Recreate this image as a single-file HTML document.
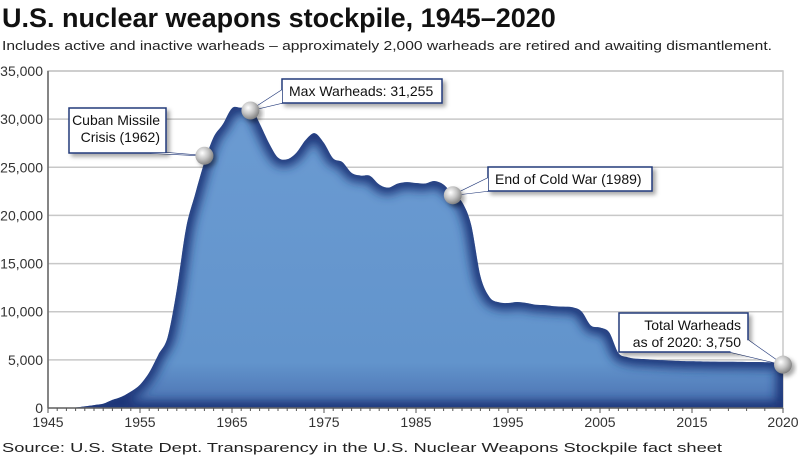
<!DOCTYPE html>
<html><head><meta charset="utf-8"><style>
body{margin:0;background:#fff;width:800px;height:458px;overflow:hidden;font-family:"Liberation Sans",sans-serif}
</style></head><body>
<svg width="800" height="458" viewBox="0 0 800 458" xmlns="http://www.w3.org/2000/svg">
<defs>
<linearGradient id="gf" x1="0" y1="0" x2="0" y2="1"><stop offset="0" stop-color="#6b9bd2"/><stop offset="0.85" stop-color="#6294cc"/><stop offset="1" stop-color="#4a70b0"/></linearGradient>
<filter id="bl" x="-10%" y="-10%" width="120%" height="120%"><feGaussianBlur stdDeviation="5"/></filter>
<filter id="sh" x="-20%" y="-20%" width="150%" height="160%"><feDropShadow dx="3" dy="3" stdDeviation="2" flood-color="#000" flood-opacity="0.35"/></filter>
<radialGradient id="ball" cx="0.38" cy="0.35" r="0.7"><stop offset="0" stop-color="#ffffff"/><stop offset="0.5" stop-color="#c4c4c4"/><stop offset="1" stop-color="#7a7a7a"/></radialGradient>
<clipPath id="ac"><path id="acp"/></clipPath>
</defs>
<text x="2" y="27" font-size="27" font-weight="bold" fill="#111">U.S. nuclear weapons stockpile, 1945–2020</text>
<text x="2" y="50" font-size="13" fill="#222" textLength="770" lengthAdjust="spacingAndGlyphs">Includes active and inactive warheads – approximately 2,000 warheads are retired and awaiting dismantlement.</text>
<text x="2" y="452" font-size="13" fill="#222" textLength="720" lengthAdjust="spacingAndGlyphs">Source: U.S. State Dept. Transparency in the U.S. Nuclear Weapons Stockpile fact sheet</text>
<g id="grid"></g>
<g id="area"></g>
<g id="axes"></g>
<g id="ann"></g>
</svg>
<script>
const years=[1945,1946,1947,1948,1949,1950,1951,1952,1953,1954,1955,1956,1957,1958,1959,1960,1961,1962,1963,1964,1965,1966,1967,1968,1969,1970,1971,1972,1973,1974,1975,1976,1977,1978,1979,1980,1981,1982,1983,1984,1985,1986,1987,1988,1989,1990,1991,1992,1993,1994,1995,1996,1997,1998,1999,2000,2001,2002,2003,2004,2005,2006,2007,2008,2009,2010,2011,2012,2013,2014,2015,2016,2017,2018,2019,2020];
const warheads=[2,9,13,50,170,299,438,841,1169,1703,2422,3692,5543,7345,12298,18638,22229,25540,28133,29463,31139,31175,31255,29561,27552,26008,25830,26516,27835,28537,27519,25914,25542,24418,24138,24104,23208,22886,23305,23459,23368,23317,23575,23205,22217,21392,19008,13708,11511,10979,10904,11011,10903,10732,10685,10577,10526,10457,10027,8570,8360,7853,5709,5273,5113,5066,5000,4950,4900,4870,4850,4820,4800,4780,4760,4700];
const yTicks=[0,5000,10000,15000,20000,25000,30000,35000];
const yTickLabels=["0","5,000","10,000","15,000","20,000","25,000","30,000","35,000"];
const xTicks=[1945,1955,1965,1975,1985,1995,2005,2015,2020];
const annYears=[1962,1967,1989,2020];
const annValues=[26200,30900,22100,4500];
const NS="http://www.w3.org/2000/svg";
const X0=48,X1=783,Y0=408,Y1=71;
function x(yr){ if(yr<=2015) return X0+(yr-1945)*9.2; return X0+70*9.2+(yr-2015)*(X1-(X0+70*9.2))/5; }
function y(v){ return Y0-(v/35000)*(Y0-Y1); }
function mk(tag,attrs,parent){const e=document.createElementNS(NS,tag);for(const k in attrs)e.setAttribute(k,attrs[k]);parent.appendChild(e);return e;}
const grid=document.getElementById('grid'),axes=document.getElementById('axes'),area=document.getElementById('area'),ann=document.getElementById('ann');
mk('rect',{x:X0,y:Y1,width:X1-X0,height:Y0-Y1,fill:'none',stroke:'#c8c8c8','stroke-width':1.5},grid);
yTicks.forEach((v,i)=>{
  if(v>0){const l=mk('line',{x1:X0,x2:X1,y1:y(v),y2:y(v),stroke:'#c8c8c8','stroke-width':1.5},grid);
  
  }
  const t=mk('text',{x:43,y:y(v)+5,'text-anchor':'end','font-size':14,fill:'#333'},axes);
  t.textContent=yTickLabels[i];
  
  
});
const pts=years.map((yr,i)=>[x(yr),y(warheads[i])]);
let d='M'+pts[0][0]+','+y(0)+' L'+pts[0][0].toFixed(1)+','+pts[0][1].toFixed(1);
const k=0.16;
for(let i=0;i<pts.length-1;i++){
  const p0=pts[Math.max(0,i-1)],p1=pts[i],p2=pts[i+1],p3=pts[Math.min(pts.length-1,i+2)];
  const c1x=p1[0]+(p2[0]-p0[0])*k,c1y=p1[1]+(p2[1]-p0[1])*k;
  const c2x=p2[0]-(p3[0]-p1[0])*k,c2y=p2[1]-(p3[1]-p1[1])*k;
  d+=` C${c1x.toFixed(1)},${Math.min(Y0,c1y).toFixed(1)} ${c2x.toFixed(1)},${Math.min(Y0,c2y).toFixed(1)} ${p2[0].toFixed(1)},${p2[1].toFixed(1)}`;
}
d+=' L'+x(years[years.length-1])+','+y(0)+' Z';
document.getElementById('acp').setAttribute('d',d);
const a=mk('path',{d:d,fill:'url(#gf)'},area);


const g=mk('g',{'clip-path':'url(#ac)'},area);
mk('path',{d:d,fill:'none',stroke:'#1f3578','stroke-width':14,filter:'url(#bl)'},g);
mk('line',{x1:X0,x2:X1,y1:Y0,y2:Y0,stroke:'#666','stroke-width':1.5},axes);
mk('line',{x1:X0,x2:X0,y1:Y1,y2:Y0,stroke:'#666','stroke-width':1.5},axes);
for(let yr=1945;yr<=2015;yr++){mk('line',{x1:x(yr),x2:x(yr),y1:Y0,y2:Y0+(yr%10==5?5:3),stroke:'#555','stroke-width':1},axes);}
for(let yr=2016;yr<=2020;yr++){mk('line',{x1:x(yr),x2:x(yr),y1:Y0,y2:Y0+(yr==2020?5:3),stroke:'#555','stroke-width':1},axes);}
xTicks.forEach(yr=>{
  const t=mk('text',{x:x(yr),y:427,'text-anchor':'middle','font-size':14,fill:'#333'},axes);
  t.textContent=String(yr);
  
  
});
const boxes=[
 {bx:69,by:108,bw:97,bh:45,lines:["Cuban Missile","Crisis (1962)"],anchor:'end',tx:160,px:[150,153,170,153]},
 {bx:282,by:79,bw:160,bh:24,lines:["Max Warheads: 31,255"],anchor:'start',tx:289,px:[282,90,282,103]},
 {bx:488,by:167,bw:164,bh:24,lines:["End of Cold War (1989)"],anchor:'start',tx:495,px:[488,178,488,191]},
 {bx:619,by:313,bw:129,bh:39,lines:["Total Warheads","as of 2020: 3,750"],anchor:'end',tx:741,px:[730,352,748,340]}
];
const names=['cuban-missile-crisis','max-warheads','end-of-cold-war','total-warheads-2020'];
boxes.forEach((b,i)=>{
  const grp=mk('g',{},ann);
  
  
  const mx=x(annYears[i]),my=y(annValues[i]);
  mk('polygon',{points:`${b.px[0]},${b.px[1]} ${b.px[2]},${b.px[3]} ${mx},${my}`,fill:'#fff',stroke:'#243a7a','stroke-width':1.2},grp);
  mk('rect',{x:b.bx,y:b.by,width:b.bw,height:b.bh,fill:'#fff',stroke:'#243a7a','stroke-width':1.5,filter:'url(#sh)'},grp);
  mk('polygon',{points:`${b.px[0]},${b.px[1]} ${b.px[2]},${b.px[3]} ${mx},${my}`,fill:'#fff',stroke:'none'},grp);
  b.lines.forEach((ln,j)=>{const t=mk('text',{x:b.tx,y:b.by+(b.lines.length==1?17:17+j*17),'text-anchor':b.anchor,'font-size':14,fill:'#111'},grp);t.textContent=ln;});
  const c=mk('circle',{cx:mx,cy:my,r:9,fill:'url(#ball)',filter:'url(#sh)'},grp);
  
  
});
</script>
</body></html>
